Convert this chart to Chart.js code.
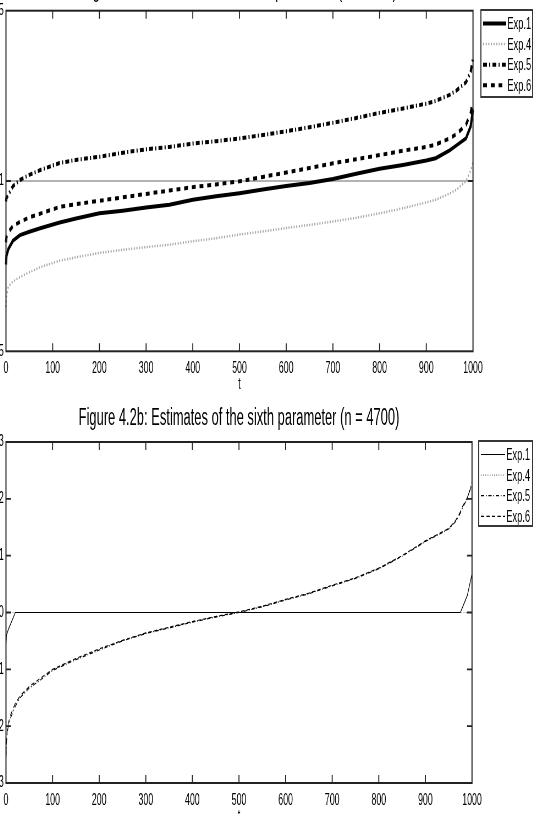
<!DOCTYPE html>
<html>
<head>
<meta charset="utf-8">
<script src="https://cdn.jsdelivr.net/npm/chart.js@4.4.1/dist/chart.umd.min.js"></script>
<style>
  html, body { margin: 0; padding: 0; background: #fff; overflow: hidden; }
  body { width: 537px; height: 814px; position: relative; }
  .fig { position: absolute; left: -24px; }
  canvas { display: block; }
</style>
</head>
<body>
<div class="fig" style="top:-30px"><canvas id="chartA" width="1020" height="440" style="width:561px;height:440px"></canvas></div>
<div class="fig" style="top:400px"><canvas id="chartB" width="1020" height="430" style="width:561px;height:430px"></canvas></div>
<script>
// data (t = sorted replication index)
const seriesNames = ['Exp.1', 'Exp.4', 'Exp.5', 'Exp.6'];
const xTicks = [0, 100, 200, 300, 400, 500, 600, 700, 800, 900, 1000];

// Figure 4.2a
const tTop = [0, 1, 5, 15, 30, 50, 75, 115, 150, 200, 250, 300, 350, 400, 450, 500, 550, 600, 650, 700, 750, 800, 850, 900, 920, 950, 965, 985, 995, 1000];
const exp1Top = [0.755, 0.78, 0.8, 0.825, 0.841, 0.851, 0.862, 0.878, 0.89, 0.905, 0.913, 0.922, 0.93, 0.945, 0.955, 0.964, 0.975, 0.985, 0.994, 1.006, 1.021, 1.036, 1.047, 1.06, 1.067, 1.09, 1.105, 1.125, 1.16, 1.21];
const exp4Top = [0.63, 0.66, 0.69, 0.705, 0.718, 0.732, 0.748, 0.766, 0.776, 0.789, 0.798, 0.806, 0.813, 0.823, 0.832, 0.843, 0.852, 0.862, 0.871, 0.881, 0.892, 0.905, 0.92, 0.937, 0.945, 0.963, 0.975, 1.0, 1.03, 1.055];
const exp5Top = [0.94, 0.95, 0.96, 0.985, 1.003, 1.018, 1.033, 1.053, 1.062, 1.071, 1.083, 1.093, 1.1, 1.11, 1.117, 1.125, 1.135, 1.146, 1.158, 1.171, 1.185, 1.2, 1.213, 1.227, 1.235, 1.253, 1.266, 1.29, 1.32, 1.36];
const exp6Top = [0.82, 0.835, 0.85, 0.868, 0.88, 0.893, 0.905, 0.924, 0.932, 0.942, 0.952, 0.962, 0.972, 0.982, 0.99, 0.999, 1.012, 1.025, 1.038, 1.052, 1.064, 1.076, 1.089, 1.1, 1.107, 1.125, 1.138, 1.165, 1.2, 1.235];
const yTicksTop = [0.5, 1, 1.5];
const trueValueTop = 1;

// Figure 4.2b
const tBottom = [0, 1, 3, 5, 10, 20, 30, 50, 75, 100, 150, 200, 250, 300, 350, 400, 450, 500, 550, 600, 650, 700, 750, 800, 850, 900, 930, 950, 965, 975, 980, 990, 1000];
const exp1Bottom = [-0.55, -0.4, -0.35, -0.3, -0.2, 0, 0, 0, 0, 0, 0, 0, 0, 0, 0, 0, 0, 0, 0, 0, 0, 0, 0, 0, 0, 0, 0, 0, 0, 0, 0.1, 0.3, 0.68];
const exp4Bottom = [0, 0, 0, 0, 0, 0, 0, 0, 0, 0, 0, 0, 0, 0, 0, 0, 0, 0, 0, 0, 0, 0, 0, 0, 0, 0, 0, 0, 0, 0, 0, 0, 0];
const exp5Bottom = [-2.55, -2.3, -2.1, -2.0, -1.85, -1.65, -1.5, -1.33, -1.18, -1.02, -0.83, -0.66, -0.5, -0.37, -0.27, -0.17, -0.08, 0.0, 0.1, 0.22, 0.33, 0.47, 0.6, 0.77, 0.99, 1.25, 1.38, 1.47, 1.6, 1.75, 1.85, 2.0, 2.3];
const exp6Bottom = [-2.5, -2.25, -2.05, -1.95, -1.8, -1.6, -1.47, -1.3, -1.15, -1.0, -0.81, -0.64, -0.49, -0.36, -0.26, -0.16, -0.07, 0.01, 0.11, 0.23, 0.34, 0.48, 0.61, 0.78, 1.0, 1.26, 1.39, 1.48, 1.62, 1.77, 1.87, 2.02, 2.25];
const yTicksBottom = [-3, -2, -1, 0, 1, 2, 3];

const FONT = "'Liberation Sans', Arial, sans-serif";

function pts(t, v) {
  return t.map((x, i) => ({ x: x, y: v[i] }));
}

// axes box, inward ticks, reference line, title and boxed legend (MATLAB look)
const framePlugin = {
  id: 'frame',
  beforeDatasetsDraw(chart, args, opts) {
    if (opts.refLine === undefined) return;
    const { ctx, chartArea: a } = chart;
    const py = chart.scales.y.getPixelForValue(opts.refLine);
    ctx.save();
    ctx.strokeStyle = '#9a9a9a';
    ctx.lineWidth = 1.5;
    ctx.beginPath();
    ctx.moveTo(a.left, py);
    ctx.lineTo(a.right, py);
    ctx.stroke();
    ctx.restore();
  },
  afterDatasetsDraw(chart, args, opts) {
    const { ctx, chartArea: a } = chart;
    const x = chart.scales.x, y = chart.scales.y;
    ctx.save();
    ctx.strokeStyle = '#222';
    ctx.lineWidth = 2;
    ctx.strokeRect(a.left, a.top, a.right - a.left, a.bottom - a.top);
    ctx.lineWidth = 1.8;
    ctx.beginPath();
    x.ticks.forEach(tk => {
      const px = x.getPixelForValue(tk.value);
      if (px <= a.left + 1 || px >= a.right - 1) return;
      ctx.moveTo(px, a.bottom); ctx.lineTo(px, a.bottom - 8);
      ctx.moveTo(px, a.top); ctx.lineTo(px, a.top + 8);
    });
    y.ticks.forEach(tk => {
      const py = y.getPixelForValue(tk.value);
      if (py <= a.top + 1 || py >= a.bottom - 1) return;
      ctx.moveTo(a.left, py); ctx.lineTo(a.left + 9, py);
      ctx.moveTo(a.right, py); ctx.lineTo(a.right - 9, py);
    });
    ctx.stroke();

    // title, centred over the axes
    ctx.fillStyle = '#000';
    ctx.font = '23.5px ' + FONT;
    ctx.textAlign = 'center';
    ctx.textBaseline = 'alphabetic';
    ctx.fillText(opts.title, (a.left + a.right) / 2, opts.titleBase);

    // legend
    const L = opts.legend;
    ctx.lineWidth = 1.8;
    ctx.strokeStyle = '#222';
    ctx.strokeRect(L.left, L.top, L.right - L.left, L.bottom - L.top);
    ctx.font = '17px ' + FONT;
    ctx.textAlign = 'left';
    ctx.textBaseline = 'middle';
    chart.data.datasets.forEach((ds, i) => {
      const ry = L.top + L.first + i * L.step;
      ctx.save();
      ctx.strokeStyle = ds.borderColor;
      ctx.lineWidth = ds.borderWidth;
      ctx.setLineDash(ds.borderDash || []);
      ctx.beginPath();
      ctx.moveTo(L.x0, ry);
      ctx.lineTo(L.x1, ry);
      ctx.stroke();
      ctx.restore();
      ctx.fillText(ds.label, L.textX, ry + 1);
    });
    ctx.restore();
  }
};

function makeChart(id, c) {
  const tickFont = { family: FONT, size: 16 };
  return new Chart(document.getElementById(id), {
    type: 'line',
    data: { datasets: c.datasets },
    options: {
      responsive: false,
      animation: false,
      events: [],
      layout: { padding: { left: 0, right: c.padRight, top: c.padTop, bottom: 0 } },
      elements: { point: { radius: 0 }, line: { tension: 0, borderCapStyle: 'butt' } },
      plugins: {
        legend: { display: false },
        tooltip: { enabled: false },
        frame: { refLine: c.refLine, title: c.title, titleBase: c.titleBase, legend: c.legend }
      },
      scales: {
        x: {
          type: 'linear', min: 0, max: 1000,
          afterBuildTicks: s => { s.ticks = xTicks.map(v => ({ value: v })); },
          afterFit: s => { s.height = c.xHeight; },
          grid: { display: false, drawTicks: false },
          border: { display: false },
          ticks: { padding: 8, maxRotation: 0, autoSkip: false, color: '#000', font: tickFont, callback: v => String(v) },
          title: { display: true, text: 't', color: '#000', font: tickFont, padding: { top: 0, bottom: c.tPad } }
        },
        y: {
          min: c.yTicks[0], max: c.yTicks[c.yTicks.length - 1],
          afterBuildTicks: s => { s.ticks = c.yTicks.map(v => ({ value: v })); },
          afterFit: s => { s.width = 54.5; },
          grid: { display: false, drawTicks: false },
          border: { display: false },
          ticks: { padding: 4, color: '#000', font: tickFont, callback: v => String(v) }
        }
      }
    },
    plugins: [framePlugin]
  });
}

makeChart('chartA', {
  title: 'Figure 4.2a: Estimates of the fifth parameter (n = 4700)',
  titleBase: 27,
  padTop: 40.7, padRight: 116.4, xHeight: 58.7, tPad: 15.4,
  yTicks: yTicksTop, refLine: trueValueTop,
  legend: { left: 918, right: 1012, top: 40, bottom: 127, first: 13.5, step: 20.6, x0: 922, x1: 964, textX: 966 },
  datasets: [
    { label: seriesNames[0], data: pts(tTop, exp1Top), borderColor: '#000', borderWidth: 4, clip: false },
    { label: seriesNames[1], data: pts(tTop, exp4Top), borderColor: '#a8a8a8', borderWidth: 2.5, borderDash: [2, 2.7], clip: false },
    { label: seriesNames[2], data: pts(tTop, exp5Top), borderColor: '#000', borderWidth: 4, borderDash: [7, 4, 2, 4], clip: false },
    { label: seriesNames[3], data: pts(tTop, exp6Top), borderColor: '#000', borderWidth: 4, borderDash: [7, 7], clip: false }
  ]
});

makeChart('chartB', {
  title: 'Figure 4.2b: Estimates of the sixth parameter (n = 4700)',
  titleBase: 25,
  padTop: 42, padRight: 118.2, xHeight: 47, tPad: 3.4,
  yTicks: yTicksBottom,
  legend: { left: 914, right: 1012, top: 41, bottom: 126, first: 13.5, step: 20.6, x0: 918, x1: 962, textX: 964 },
  datasets: [
    { label: seriesNames[0], data: pts(tBottom, exp1Bottom), borderColor: '#000', borderWidth: 1.2, clip: false },
    { label: seriesNames[1], data: pts(tBottom, exp4Bottom), borderColor: '#777', borderWidth: 1.2, borderDash: [1.5, 2.5], clip: false },
    { label: seriesNames[2], data: pts(tBottom, exp5Bottom), borderColor: '#000', borderWidth: 1.2, borderDash: [6, 3, 1.5, 3], clip: false },
    { label: seriesNames[3], data: pts(tBottom, exp6Bottom), borderColor: '#000', borderWidth: 1.2, borderDash: [6, 4], clip: false }
  ]
});
</script>
</body>
</html>
